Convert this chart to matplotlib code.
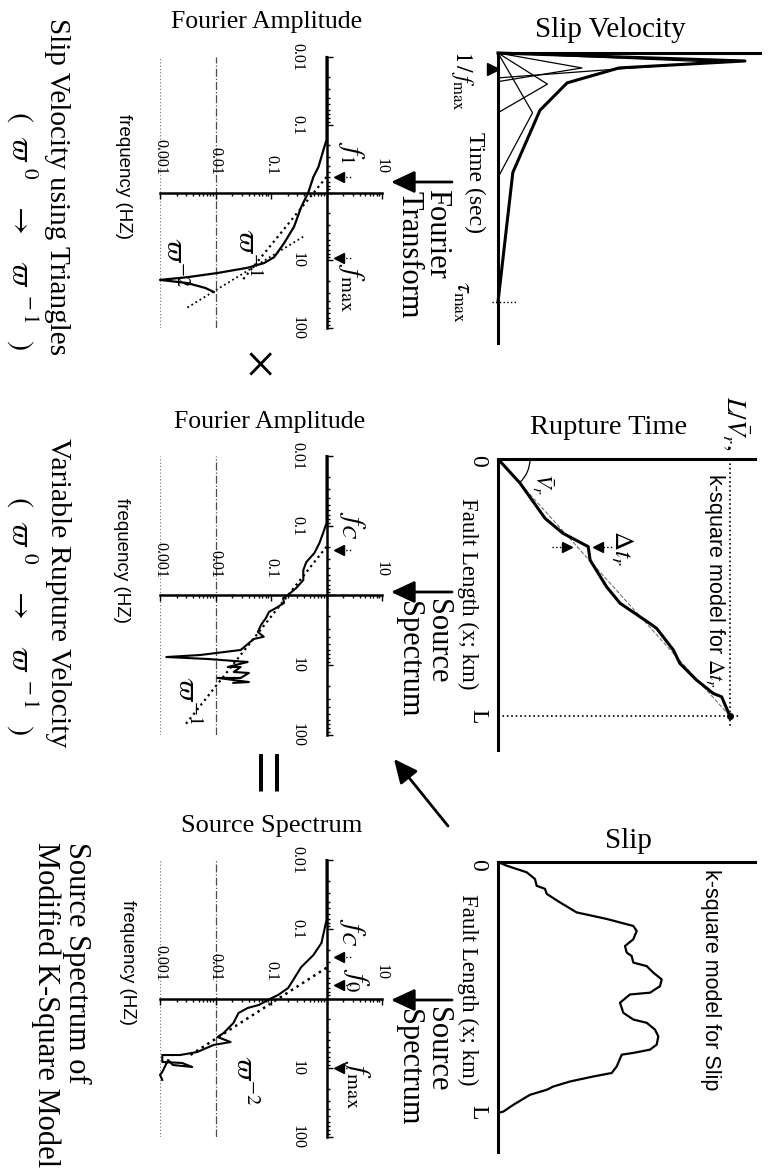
import matplotlib
matplotlib.use('Agg')
import matplotlib.pyplot as plt
from matplotlib.ticker import FixedLocator, FixedFormatter, LogLocator, NullFormatter
from matplotlib.patches import Arc

plt.rcParams['font.family'] = ['Liberation Serif', 'DejaVu Serif']
plt.rcParams['mathtext.fontset'] = 'stix'

# ---------------- data ----------------
# Slip velocity (time / tau_max, velocity / peak)
sv_env_t = [0.0, 0.032, 0.06, 0.12, 0.23, 0.48, 1.0]
sv_env_v = [0.0, 1.0, 0.49, 0.28, 0.17, 0.06, 0.0]
tri_peak_t = [0.036, 0.06, 0.125, 0.24]
tri_peak_v = [0.87, 0.34, 0.20, 0.14]
tri_end_t = [0.10, 0.115, 0.24, 0.50]
inv_fmax_t = 0.064

# Rupture time (time / (L/Vr), position / L)
rt_time = [0.0, 0.095, 0.203, 0.28, 0.389, 0.397, 0.468, 0.526, 0.655, 0.684,
           0.756, 0.784, 0.856, 0.928, 0.964, 1.0]
rt_pos = [0.0, 0.094, 0.231, 0.289, 0.341, 0.393, 0.497, 0.561, 0.64, 0.659,
          0.743, 0.795, 0.86, 0.912, 0.925, 1.0]
dt_pos = 0.342
dt_time = [0.297, 0.431]

# Slip (position / L, slip arbitrary units)
slip_pos = [0.0, 0.0147, 0.041, 0.068, 0.095, 0.107, 0.127, 0.161, 0.201, 0.227,
            0.241, 0.255, 0.275, 0.308, 0.335, 0.361, 0.375, 0.401, 0.415, 0.441,
            0.468, 0.495, 0.521, 0.528, 0.561, 0.601, 0.628, 0.641, 0.668, 0.695,
            0.728, 0.748, 0.761, 0.768, 0.815, 0.841, 0.855, 0.875, 0.895, 0.908,
            0.928, 0.968, 0.995, 1.0]
slip_val = [0.0, 0.087, 0.287, 0.37, 0.387, 0.47, 0.487, 0.62, 0.787, 1.087,
            1.22, 1.353, 1.387, 1.353, 1.27, 1.287, 1.337, 1.353, 1.487, 1.553,
            1.637, 1.62, 1.52, 1.32, 1.22, 1.253, 1.353, 1.487, 1.57, 1.603,
            1.587, 1.52, 1.353, 1.237, 1.187, 1.137, 0.953, 0.72, 0.553, 0.487,
            0.32, 0.153, 0.053, 0.0]

# Spectrum of slip velocity built from triangles
d_freq = [0.01, 0.168, 0.236, 0.42, 0.59, 1.0, 1.64, 3.2, 5.6, 9.0, 11.0, 12.9,
          15.4, 17.8, 19.5, 21.7, 25.7, 29.4]
d_amp = [1.0, 1.0, 0.88, 0.716, 0.58, 0.47, 0.35, 0.26, 0.172, 0.114, 0.075, 0.038,
         0.011, 0.0031, 0.001, 0.0031, 0.0066, 0.0093]
d_w1_freq = [0.59, 20.0]
d_w1_amp = [1.0, 0.03]
d_w2_freq = [4.5, 50.0]
d_w2_amp = [0.38, 0.0031]
d_mark_freq = [0.59, 9.4]

# Spectrum for variable rupture velocity
e_freq = [0.01, 0.0914, 0.123, 0.177, 0.246, 0.331, 0.431, 0.600, 0.78, 0.98, 1.09,
          1.28, 1.51, 1.72, 2.10, 2.65, 3.34, 3.9, 4.2, 6.04, 7.13, 7.62, 8.13, 8.98,
          10.6, 10.6, 12.5, 12.9, 15.2, 15.2, 17.4, 17.9]
e_amp = [1.0, 1.0, 0.882, 0.746, 0.605, 0.433, 0.382, 0.382, 0.285, 0.204, 0.165,
         0.172, 0.123, 0.092, 0.081, 0.066, 0.058, 0.074, 0.049, 0.0284, 0.0053, 0.0013,
         0.0072, 0.038, 0.0166, 0.0284, 0.0213, 0.04, 0.0284, 0.0109, 0.04, 0.021]
e_w1_freq = [0.2, 70.0]
e_w1_amp = [1.0, 0.0029]
e_mark_freq = [0.22]

# Source spectrum of the modified k-square model
f_freq = [0.01, 0.0735, 0.158, 0.236, 0.351, 0.541, 0.705, 0.89, 1.05, 1.24, 1.37,
          1.62, 2.26, 3.15, 3.60, 4.25, 4.69, 5.92, 6.55, 6.55, 8.26, 8.53, 9.75, 9.12,
          7.73, 11.5, 12.7, 15.0]
f_amp = [1.0, 1.0, 0.811, 0.58, 0.351, 0.251, 0.204, 0.134, 0.088, 0.0605, 0.038,
         0.026, 0.021, 0.014, 0.0109, 0.0187, 0.0092, 0.0047, 0.0023, 0.0011, 0.0011,
         0.0025, 0.0038, 0.0017, 0.0014, 0.0011, 0.001, 0.0011]
f_w2_freq = [0.36, 7.0]
f_w2_amp = [1.0, 0.0031]
f_mark_freq = [0.25, 0.64, 10.0]

amp_ticks = [0.001, 0.01, 0.1, 1, 10]
amp_labels = ['0.001', '0.01', '0.1', '', '10']
freq_ticks = [0.01, 0.1, 1, 10, 100]
freq_labels = ['0.01', '0.1', '', '10', '100']

# ---------------- figure ----------------
W, H = 768, 1169
fig = plt.figure(figsize=(W / 100, H / 100), dpi=100)


def ax_px(x0, y0, x1, y1):
    return fig.add_axes([x0 / W, 1 - y1 / H, (x1 - x0) / W, (y1 - y0) / H])


def plain_axes(x0, y0, x1, y1):
    ax = ax_px(x0, y0, x1, y1)
    ax.patch.set_alpha(0)
    for s in ['right', 'bottom']:
        ax.spines[s].set_visible(False)
    for s in ['left', 'top']:
        ax.spines[s].set_linewidth(2.2)
    ax.set_xticks([])
    ax.set_yticks([])
    return ax


def spectrum_axes(top, bottom):
    ax = ax_px(160, top, 382, bottom)
    ax.patch.set_alpha(0)
    ax.set_xscale('log')
    ax.set_yscale('log')
    ax.set_xlim(1e-3, 10)
    ax.set_ylim(100, 1e-2)
    ax.spines['right'].set_visible(False)
    ax.spines['left'].set_position(('data', 1))
    ax.spines['bottom'].set_position(('data', 1))
    ax.spines['top'].set_position(('data', 1))
    ax.spines['top'].set_visible(False)
    ax.spines['left'].set_linewidth(1.8)
    ax.spines['bottom'].set_linewidth(1.8)
    ax.xaxis.set_major_locator(FixedLocator(amp_ticks))
    ax.xaxis.set_major_formatter(FixedFormatter(amp_labels))
    ax.xaxis.set_minor_locator(LogLocator(base=10, subs=range(2, 10), numticks=20))
    ax.xaxis.set_minor_formatter(NullFormatter())
    ax.yaxis.set_major_locator(FixedLocator(freq_ticks))
    ax.yaxis.set_major_formatter(FixedFormatter(freq_labels))
    ax.yaxis.set_minor_locator(LogLocator(base=10, subs=range(2, 10), numticks=20))
    ax.yaxis.set_minor_formatter(NullFormatter())
    ax.tick_params(axis='x', which='both', bottom=True, top=False, labelbottom=False,
                   labeltop=True, direction='out', labelrotation=-90, pad=9,
                   labelsize=11.5, width=1)
    ax.tick_params(axis='x', which='major', length=4)
    ax.tick_params(axis='x', which='minor', length=2.5)
    ax.tick_params(axis='y', which='both', left=True, right=False, direction='in',
                   labelrotation=-90, pad=15, labelsize=11.5, width=1)
    ax.tick_params(axis='y', which='major', length=4)
    ax.tick_params(axis='y', which='minor', length=2.5)
    for lab in ax.get_yticklabels():
        lab.set_va('center')
    ax.axvline(0.01, ls='-.', lw=0.9, color='0.3', zorder=0)
    ax.axvline(0.001, ls=':', lw=0.9, color='0.5', zorder=0)
    ax.axvline(10, ls='--', lw=0.7, color='0.55', zorder=0)
    return ax


def arrow_marks(ax, freqs):
    for fq in freqs:
        ax.plot([1.65], [fq], marker='<', ms=7, color='k', clip_on=False, zorder=5)
        ax.plot([1.9, 2.9], [fq, fq], ls=':', lw=1, color='k', clip_on=False)


# --- Slip velocity
ax_sv = plain_axes(498, 53, 760, 343)
ax_sv.set_xlim(0, 1.061)
ax_sv.set_ylim(1.165, 0)
ax_sv.plot(sv_env_v, sv_env_t, color='k', lw=2.2, clip_on=False)
for tp, vp, te in zip(tri_peak_t, tri_peak_v, tri_end_t):
    ax_sv.plot([0, vp, 0], [0, tp, te], color='k', lw=0.9, clip_on=False)
ax_sv.plot([-0.02], [inv_fmax_t], marker='>', ms=8, color='k', clip_on=False)
ax_sv.plot([-0.025, 0.075], [1.0, 1.0], ls=':', lw=1, color='k', clip_on=False)

# --- Rupture time
ax_rt = plain_axes(498, 459, 755, 750)
ax_rt.set_xlim(0, 1.108)
ax_rt.set_ylim(1.132, 0)
ax_rt.plot([0, 1], [0, 1], ls='--', lw=0.8, color='0.45')
ax_rt.plot(rt_time, rt_pos, color='k', lw=2.2)
ax_rt.plot([1, 1], [0, 1.045], ls=':', lw=1.2, color='k', clip_on=False)
ax_rt.plot([0, 1.045], [1, 1], ls=':', lw=1.2, color='k', clip_on=False)
ax_rt.plot([1], [1], marker='o', ms=4, color='k')
ax_rt.plot([dt_time[0]], [dt_pos], marker='>', ms=7, color='k')
ax_rt.plot([dt_time[1]], [dt_pos], marker='<', ms=7, color='k')
ax_rt.plot([dt_time[0] - 0.065, dt_time[0] - 0.02], [dt_pos, dt_pos], ls=':', lw=1, color='k')
ax_rt.plot([dt_time[1] + 0.02, dt_time[1] + 0.07], [dt_pos, dt_pos], ls=':', lw=1, color='k')

# --- Slip
ax_sl = plain_axes(498, 862, 755, 1152)
ax_sl.set_xlim(0, 2.57)
ax_sl.set_ylim(1.156, 0)
ax_sl.plot(slip_val, slip_pos, color='k', lw=1.6)

# --- Spectra
ax_d = spectrum_axes(57, 328)
ax_d.plot(d_amp, d_freq, color='k', lw=1.6, clip_on=False)
ax_d.plot(d_w1_amp, d_w1_freq, ls=':', lw=1.6, color='k')
ax_d.plot(d_w2_amp, d_w2_freq, ls=':', lw=1.3, color='k')
arrow_marks(ax_d, d_mark_freq)

ax_e = spectrum_axes(456, 735)
ax_e.plot(e_amp, e_freq, color='k', lw=1.5, clip_on=False)
ax_e.plot(e_w1_amp, e_w1_freq, ls=':', lw=1.6, color='k')
arrow_marks(ax_e, e_mark_freq)

ax_f = spectrum_axes(860, 1137)
ax_f.plot(f_amp, f_freq, color='k', lw=1.5, clip_on=False)
ax_f.plot(f_w2_amp, f_w2_freq, ls=':', lw=1.8, color='k')
arrow_marks(ax_f, f_mark_freq)

# ---------------- overlay for text & arrows ----------------
ov = fig.add_axes([0, 0, 1, 1])
ov.set_xlim(0, W)
ov.set_ylim(H, 0)
ov.axis('off')

SANS = ['Liberation Sans Narrow', 'Liberation Sans', 'DejaVu Sans']


def rt(x, y, s, size, **kw):
    kw.setdefault('ha', 'center')
    kw.setdefault('va', 'center')
    ov.text(x, y, s, fontsize=size, rotation=-90, **kw)


def ht(x, y, s, size, **kw):
    ov.text(x, y, s, fontsize=size, ha='center', va='center', **kw)


# titles
ht(610, 30, 'Slip Velocity', 21)
ht(609, 428, 'Rupture Time', 20.5)
ht(628, 841, 'Slip', 21)
ht(267, 22, 'Fourier Amplitude', 18.5)
ht(270, 422, 'Fourier Amplitude', 18.5)
ht(272, 826, 'Source Spectrum', 19)

# slip velocity annotations
rt(462, 80, r'$1\,/\,f_{\mathrm{max}}$', 17)
rt(475, 183, 'Time (sec)', 17)
rt(462, 302, r'$\tau_{\mathrm{max}}$', 18)

# rupture annotations
rt(736, 423, r'$L/\bar{V}_r,$', 19)
rt(478, 461, '0', 17)
rt(478, 716, 'L', 17)
rt(468, 594, 'Fault Length (x; km)', 16.5)
rt(715, 580, r'k-square model for $\Delta t_r$', 15.5, family=SANS)
rt(622, 548, r'$\Delta t_r$', 19)
rt(543, 484, r'$\bar{V}_r$', 16)
ov.add_patch(Arc((498, 459), 64, 64, theta1=0, theta2=47, lw=0.9, color='k'))

# slip annotations
rt(478, 865, '0', 17)
rt(478, 1112, 'L', 17)
rt(468, 990, 'Fault Length (x; km)', 16.5)
rt(711, 980, 'k-square model for Slip', 15.5, family=SANS)

# arrows between panels
for ya, l1, l2 in [(182, 'Fourier', 'Transform'), (592, 'Source', 'Spectrum'),
                   (1000, 'Source', 'Spectrum')]:
    ov.annotate('', xy=(391, ya), xytext=(452, ya),
                arrowprops=dict(arrowstyle='-|>,head_length=0.6,head_width=0.28',
                                mutation_scale=24, lw=2, color='k',
                                shrinkA=0, shrinkB=0))
    rt(437, ya + 7, l1, 22, va='top')
    rt(409, ya + 9, l2, 22, va='top')
ov.annotate('', xy=(394, 759), xytext=(448, 826),
            arrowprops=dict(arrowstyle='-|>,head_length=0.6,head_width=0.28',
                            mutation_scale=24, lw=2, color='k', shrinkA=0, shrinkB=0))

# spectrum annotations
rt(123, 177, 'frequency (HZ)', 13.5, family=SANS)
rt(121, 560, 'frequency (HZ)', 13.5, family=SANS)
rt(127, 963, 'frequency (HZ)', 13.5, family=SANS)

rt(57, 187, 'Slip Velocity using Triangles', 21)
rt(22, 230, r'$(\ \ \varpi^{\ 0}\ \ \ \rightarrow\ \ \ \varpi^{\ -1}\ \ )$', 22)
rt(58, 593, 'Variable Rupture Velocity', 21.5)
rt(22, 615, r'$(\ \ \varpi^{\ 0}\ \ \ \rightarrow\ \ \ \varpi^{\ -1}\ \ )$', 22)
rt(77, 842, 'Source Spectrum of', 22, va='top')
rt(46, 842, 'Modified K-Square Model', 22, va='top')

ht(260, 369, '\u00d7', 40)
rt(256, 776, '=', 58)

rt(351, 152, r'$f_{1}$', 21)
rt(351, 288, r'$f_{\mathrm{max}}$', 21)
rt(246, 252, r'$\varpi^{-1}$', 21)
rt(174, 262, r'$\varpi^{-2}$', 21)

rt(352, 525, r'$f_{C}$', 21)
rt(186, 700, r'$\varpi^{-1}$', 21)

rt(352, 932, r'$f_{C}$', 21)
rt(356, 980, r'$f_{0}$', 21)
rt(357, 1085, r'$f_{\mathrm{max}}$', 21)
rt(244, 1080, r'$\varpi^{-2}$', 21)

fig.savefig('out.png', dpi=100)
